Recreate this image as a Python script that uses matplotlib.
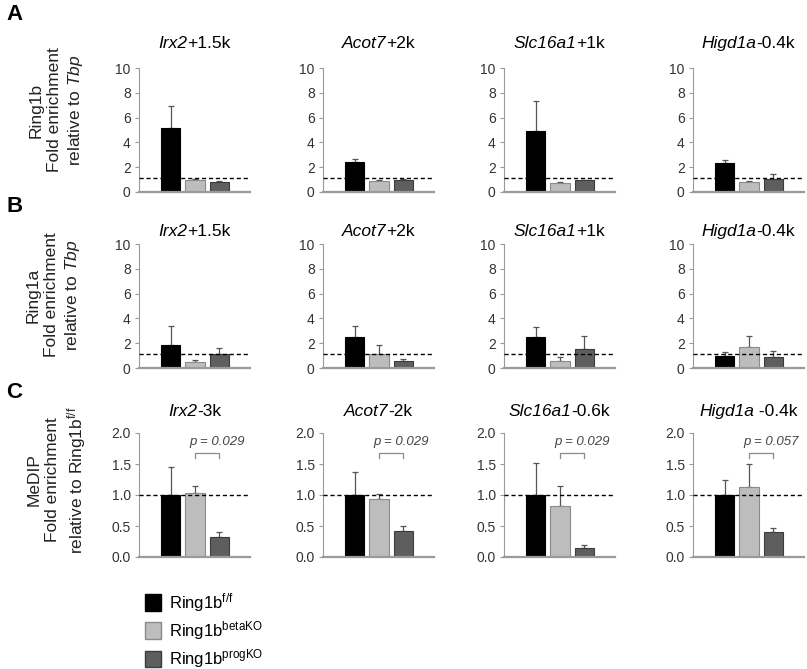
import matplotlib
matplotlib.use("Agg")
import matplotlib.pyplot as plt
from matplotlib.patches import Patch
from matplotlib.ticker import FormatStrFormatter
from matplotlib.offsetbox import TextArea, HPacker, AnnotationBbox
import numpy as np

plt.rcParams["font.family"] = ["Liberation Sans", "DejaVu Sans"]
plt.rcParams["mathtext.fontset"] = "custom"
plt.rcParams["mathtext.rm"] = "Liberation Sans"
plt.rcParams["mathtext.it"] = "Liberation Sans:italic"

# groups (bar order within each panel)
groups = ["Ring1b$^{\\mathregular{f/f}}$", "Ring1b$^{\\mathregular{betaKO}}$", "Ring1b$^{\\mathregular{progKO}}$"]
group_colors = ["#000000", "#bdbdbd", "#5e5e5e"]
group_edges = ["#000000", "#8a8a8a", "#3c3c3c"]

genes = ["Irx2", "Acot7", "Slc16a1", "Higd1a"]

# row A: Ring1b ChIP
suffix_a = ["+1.5k", "+2k", "+1k", "-0.4k"]
vals_a = [[5.2, 1.0, 0.8], [2.45, 0.85, 0.95], [4.9, 0.75, 0.95], [2.35, 0.8, 1.05]]
errs_a = [[1.75, 0.05, 0.05], [0.25, 0.1, 0.12], [2.4, 0.05, 0.05], [0.25, 0.1, 0.4]]

# row B: Ring1a ChIP
suffix_b = suffix_a
vals_b = [[1.87, 0.45, 1.1], [2.5, 1.15, 0.6], [2.5, 0.58, 1.5], [0.95, 1.7, 0.85]]
errs_b = [[1.5, 0.23, 0.55], [0.85, 0.7, 0.15], [0.8, 0.3, 1.1], [0.35, 0.9, 0.5]]

# row C: MeDIP
suffix_c = ["-3k", "-2k", "-0.6k", " -0.4k"]
vals_c = [[1.0, 1.04, 0.33], [1.0, 0.94, 0.42], [1.0, 0.83, 0.15], [1.0, 1.13, 0.4]]
errs_c = [[0.45, 0.1, 0.08], [0.37, 0.08, 0.08], [0.52, 0.32, 0.05], [0.25, 0.37, 0.07]]
pvals_c = ["p = 0.029", "p = 0.029", "p = 0.029", "p = 0.057"]

W, H = 807, 669
fig = plt.figure(figsize=(W / 100, H / 100), dpi=100)

col_left = [139, 323, 504, 693]
ax_w = 111
ax_h = 124
row_bottom = [192, 368, 557]

xpos = np.arange(1, 4)


def gene_title(ax, gene, suffix, pad_pt):
    # italic gene name followed by upright position suffix
    parts = [TextArea(gene, textprops=dict(style="italic", fontsize=12.5)),
             TextArea(suffix, textprops=dict(fontsize=12.5))]
    box = HPacker(children=parts, align="baseline", pad=0, sep=0)
    ab = AnnotationBbox(box, (0.5, 1), xycoords="axes fraction", xybox=(0, pad_pt),
                        boxcoords="offset points", box_alignment=(0.5, 0),
                        frameon=False, annotation_clip=False)
    ax.add_artist(ab)


def draw_panel(ax, vals, errs, ymax, yticks, fmt, ref):
    ax.errorbar(xpos, vals, yerr=[np.zeros(3), errs], fmt="none",
                ecolor="#555555", elinewidth=0.9, capsize=2.5, capthick=0.9, zorder=1)
    ax.bar(xpos, vals, width=0.78, color=group_colors, edgecolor=group_edges,
           linewidth=0.8, zorder=2)
    ax.axhline(ref, color="black", ls=(0, (3, 2)), lw=1.0, zorder=3)
    ax.set_xlim(-0.29, 4.25)
    ax.set_ylim(0, ymax)
    ax.set_yticks(yticks)
    ax.yaxis.set_major_formatter(FormatStrFormatter(fmt))
    ax.set_xticks([])
    for s in ("top", "right"):
        ax.spines[s].set_visible(False)
    ax.spines["left"].set_color("#9a9a9a")
    ax.spines["left"].set_linewidth(0.8)
    ax.spines["bottom"].set_color("#9a9a9a")
    ax.spines["bottom"].set_linewidth(1.6)
    ax.tick_params(axis="y", direction="out", length=3, width=0.8, color="#9a9a9a",
                   labelsize=10, labelcolor="#333333", pad=3)


rows = [
    (suffix_a, vals_a, errs_a, 10, np.arange(0, 11, 2), "%d", 1.1, 12),
    (suffix_b, vals_b, errs_b, 10, np.arange(0, 11, 2), "%d", 1.1, 3.5),
    (suffix_c, vals_c, errs_c, 2.0, np.arange(0, 2.01, 0.5), "%.1f", 1.0, 10),
]

for r, (suffixes, vals, errs, ymax, yt, fmt, ref, pad) in enumerate(rows):
    for c in range(4):
        left = col_left[c] / W
        bottom = 1 - row_bottom[r] / H
        ax = fig.add_axes([left, bottom, ax_w / W, ax_h / H])
        draw_panel(ax, vals[c], errs[c], ymax, yt, fmt, ref)
        gene_title(ax, genes[c], suffixes[c], pad)
        if r == 2:
            # significance bracket between betaKO and progKO
            ax.plot([2, 2, 3, 3], [1.59, 1.68, 1.68, 1.59], color="#8a8a8a", lw=0.9)
            ax.text(2.9, 1.86, pvals_c[c], ha="center", va="center", fontsize=9.5,
                    style="italic", color="#444444")

# row labels
row_labels = [
    ("Ring1b\nFold enrichment\nrelative to $\\mathit{Tbp}$", 57, 110),
    ("Ring1a\nFold enrichment\nrelative to $\\mathit{Tbp}$", 54, 295),
    ("MeDIP\nFold enrichment\nrelative to Ring1b$^{\\mathregular{f/f}}$", 57, 480),
]
for txt, x, y in row_labels:
    fig.text(x / W, 1 - y / H, txt, rotation=90, ha="center", va="center",
             multialignment="center", fontsize=12.5, linespacing=1.3, color="#222222")

for letter, y in (("A", 15), ("B", 207), ("C", 393)):
    fig.text(6 / W, 1 - y / H, letter, fontsize=16, fontweight="bold", va="center", ha="left")

handles = [Patch(facecolor=group_colors[i], edgecolor=group_edges[i]) for i in range(3)]
fig.legend(handles, groups, loc="upper left", bbox_to_anchor=(138 / W, 1 - 584 / H),
           frameon=False, fontsize=12, handlelength=0.95, handleheight=1.15,
           handletextpad=0.5, labelspacing=0.32, borderaxespad=0)

fig.savefig("out.png", dpi=100)
